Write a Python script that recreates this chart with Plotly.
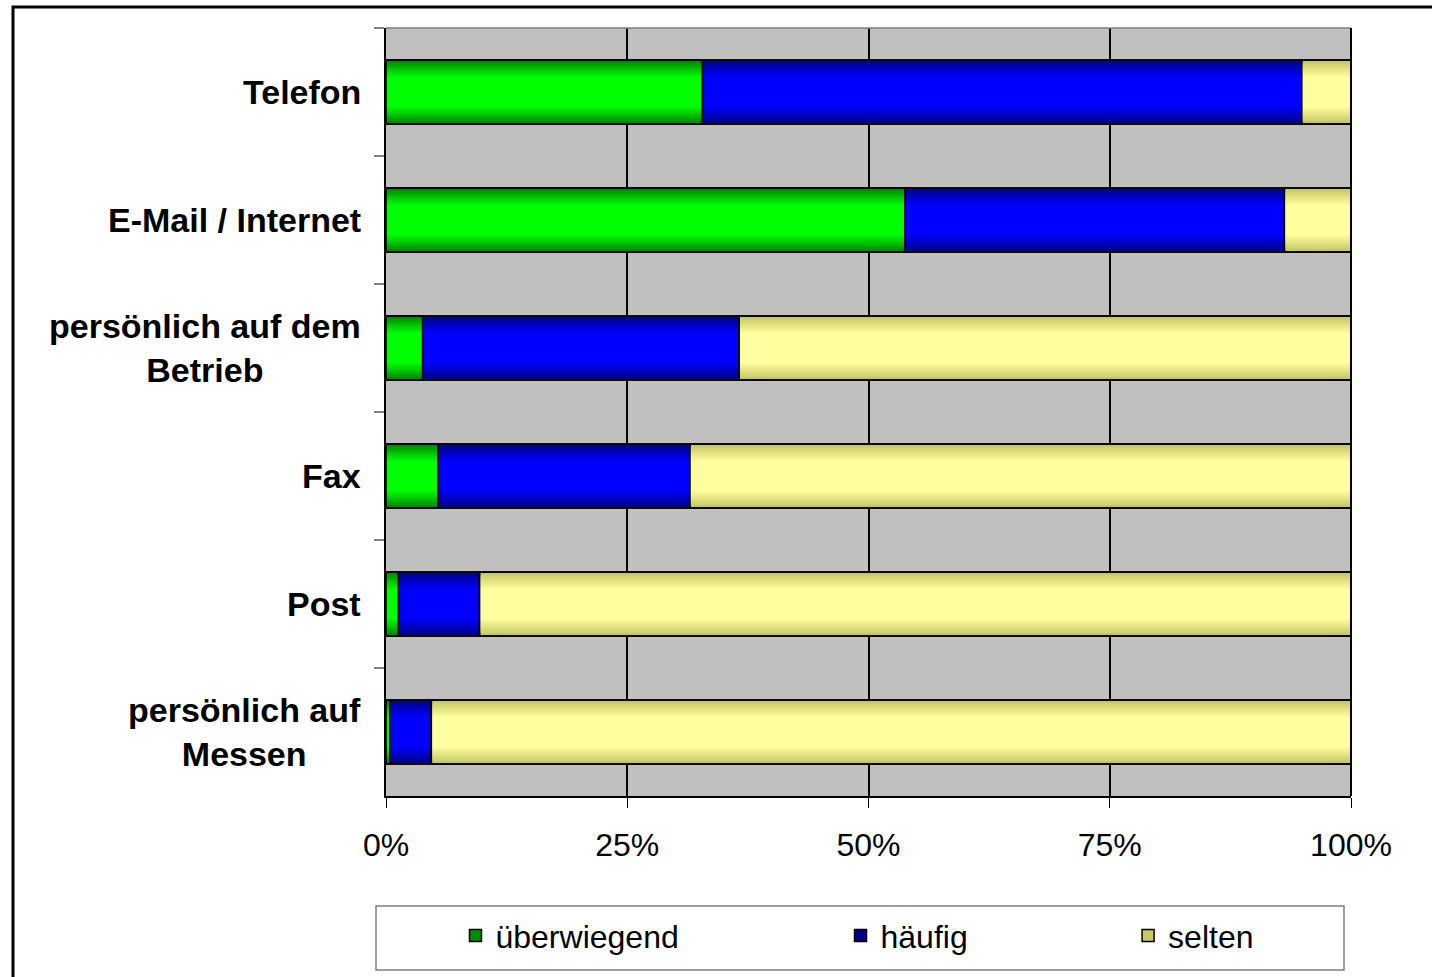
import plotly.graph_objects as go

categories = ["Telefon", "E-Mail / Internet", "persönlich auf dem<br>Betrieb", "Fax", "Post",
              "persönlich auf<br>Messen"]
series_names = ["überwiegend", "häufig", "selten"]
ueberwiegend = [32.8, 53.8, 3.8, 5.4, 1.3, 0.4]
haeufig = [62.1, 39.3, 32.8, 26.1, 8.4, 4.3]
selten = [5.1, 6.9, 63.4, 68.5, 90.3, 95.3]
x_ticks = [0, 25, 50, 75, 100]
x_tick_labels = ["0%", "25%", "50%", "75%", "100%"]

series_values = [ueberwiegend, haeufig, selten]
# gradient colours: edge -> centre
edge_colors = [(0, 140, 0), (0, 0, 140), (200, 200, 105)]
centre_colors = [(0, 255, 0), (0, 0, 255), (255, 255, 160)]
legend_ids = ["legend", "legend2", "legend3"]
legend_x = [0.072, 0.471, 0.769]

BAR_W = 0.5
layers = [1.0, 0.9, 0.8, 0.7, 0.6, 0.5]

fig = go.Figure()
base = [0.0] * len(categories)
for s, (name, vals) in enumerate(zip(series_names, series_values)):
    e, c = edge_colors[s], centre_colors[s]
    for li, frac in enumerate(layers):
        t = li / (len(layers) - 1)
        col = "rgb(%d,%d,%d)" % tuple(round(e[k] + (c[k] - e[k]) * t) for k in range(3))
        fig.add_trace(go.Bar(
            y=categories, x=vals, base=base, orientation="h", width=BAR_W * frac,
            marker=dict(color=col, line=dict(color="black", width=1.5 if li == 0 else 0)),
            name=name, showlegend=(li == 0), legend=legend_ids[s], hoverinfo="skip"))
    fig.add_trace(go.Bar(
        y=categories, x=vals, base=base, orientation="h", width=BAR_W,
        marker=dict(color="rgba(0,0,0,0)", line=dict(color="black", width=1.5)),
        showlegend=False, hoverinfo="skip"))
    base = [b + v for b, v in zip(base, vals)]

# category labels (centred multi-line)
for cat in categories:
    fig.add_annotation(x=-0.024, xref="paper", y=cat, yref="y", text="<b>%s</b>" % cat,
                       showarrow=False, xanchor="right", yanchor="middle", align="center",
                       font=dict(size=34, color="black", family="Liberation Sans, Arial"))

shapes = [
    # outer chart border (top/left visible)
    dict(type="rect", xref="paper", yref="paper", x0=(13 - 386) / 965, x1=1.3,
         y0=-0.5, y1=1 + (28 - 7) / 768, line=dict(color="black", width=3)),
    # legend box
    dict(type="rect", xref="paper", yref="paper", x0=(376 - 386) / 965, x1=(1344 - 386) / 965,
         y0=(796 - 970) / 768, y1=(796 - 906) / 768, line=dict(color="#808080", width=1.5),
         fillcolor="white", layer="below"),
    # plot-area top border
    dict(type="line", xref="paper", yref="paper", x0=0, x1=1, y0=1, y1=1,
         line=dict(color="#808080", width=1.5)),
    # right edge
    dict(type="line", xref="paper", yref="paper", x0=1, x1=1, y0=0, y1=1,
         line=dict(color="black", width=2)),
]

legend_common = dict(orientation="h", yanchor="middle", xanchor="left", y=-0.182,
                     bgcolor="rgba(0,0,0,0)", borderwidth=0,
                     font=dict(size=32, color="black", family="Liberation Sans, Arial"))

fig.update_layout(
    width=1432, height=977,
    margin=dict(l=386, r=81, t=28, b=181),
    paper_bgcolor="white", plot_bgcolor="#C0C0C0",
    barmode="overlay", bargap=0.5,
    font=dict(family="Liberation Sans, Arial", color="black"),
    shapes=shapes,
    legend=dict(x=legend_x[0], **legend_common),
    legend2=dict(x=legend_x[1], **legend_common),
    legend3=dict(x=legend_x[2], **legend_common),
    xaxis=dict(range=[0, 100], tickmode="array", tickvals=x_ticks, ticktext=x_tick_labels,
               ticks="outside", ticklen=10, ticklabelstandoff=10,
               tickcolor="black", tickwidth=1, showgrid=True, gridcolor="black", gridwidth=2,
               showline=True, linecolor="black", linewidth=2, zeroline=False,
               tickfont=dict(size=32, color="black", family="Liberation Sans, Arial"),
               fixedrange=True),
    yaxis=dict(type="category", autorange="reversed", showticklabels=False, ticks="outside",
               tickson="boundaries", ticklen=10, tickcolor="#808080", tickwidth=1.5,
               showgrid=False, showline=True, linecolor="black", linewidth=2, zeroline=False,
               fixedrange=True),
)

fig.write_html("out.html", config={"displayModeBar": False},
               post_script="document.body.style.margin='0';")
